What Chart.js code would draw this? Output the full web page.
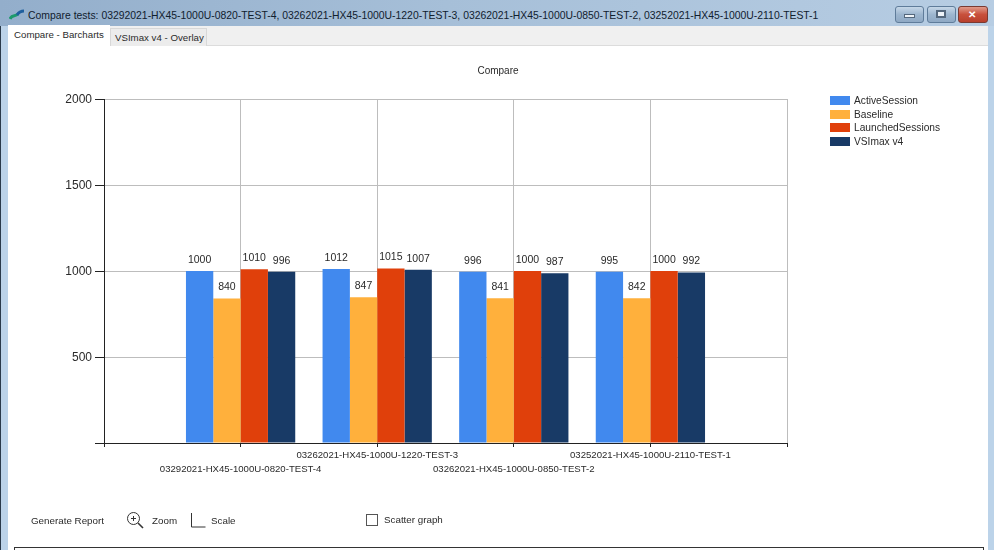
<!DOCTYPE html>
<html>
<head>
<meta charset="utf-8">
<title>Compare</title>
<script src="https://cdn.jsdelivr.net/npm/chart.js@4"></script>
<style>
  html, body { margin: 0; padding: 0; }
  body { position: relative; width: 994px; height: 550px; overflow: hidden; background: #bcd3e9; font-family: "Liberation Sans", Arial, sans-serif; color: #2a2a2a; }
  .abs { position: absolute; white-space: nowrap; }
  #titlebar { left: 0; top: 0; width: 994px; height: 26px; background: linear-gradient(90deg, #93aecb 0%, #a6bfd8 45%, #b7cde3 100%); }
  #edge { left: 0; top: 26px; width: 1px; height: 524px; background: #2a3a4a; }
  #apptitle { left: 28px; top: 9px; font: 11.5px "Liberation Sans", sans-serif; color: #10202e; transform: scaleX(.904); transform-origin: left; }
  #tabstrip { left: 8px; top: 26px; width: 980px; height: 20px; background: #f0f0f0; border-bottom: 1px solid #dcdcdc; box-sizing: border-box; }
  #content { left: 8px; top: 46px; width: 980px; height: 504px; background: #fff; }
  .tab { font: 9.7px "Liberation Sans", sans-serif; box-sizing: border-box; }
  #tab1 { left: 8px; width: 102px; background: #fff; padding-left: 6px; top: 25px; height: 21px; line-height: 20px; }
  #tab2 { left: 110px; width: 97px; background: #ececec; border: 1px solid #d8d8d8; border-bottom: 0; padding-left: 4px; top: 28px; height: 18px; line-height: 18px; }
  .winbtn { top: 6px; height: 17px; border-radius: 3px; border: 1px solid #5f7c9a; box-sizing: border-box; background: linear-gradient(#c6d7e8, #9db6cf 50%, #8fa9c4); }
  #close { left: 958px; width: 30px; border-color: #7a3a32; background: linear-gradient(#e09a8a, #c8503c 50%, #b8402c); }
  #chart { left: 0; top: 0; }
  #charttitle { left: 398px; width: 200px; top: 65px; text-align: center; font: 10px "Liberation Sans", sans-serif; }
  #legend { left: 830px; top: 94px; font: 10.2px "Liberation Sans", Arial, sans-serif; }
  .legrow { height: 13.5px; line-height: 13.5px; display: flex; align-items: center; }
  .legrow i { display: block; width: 20px; height: 9px; margin-right: 4px; }
  .tool { font: 9.8px "Liberation Sans", sans-serif; top: 515px; }
  #check { left: 366px; top: 514px; width: 12px; height: 12px; border: 1px solid #555; box-sizing: border-box; background: #fff; }
  #lower { left: 14px; top: 547px; width: 970px; height: 5px; background: #fcfcfc; border: 1px solid #333; box-sizing: border-box; }
</style>
</head>
<body>
<div class="abs" id="titlebar"></div>
<div class="abs" id="edge"></div>
<svg class="abs" style="left:9px;top:9px" width="16" height="11" viewBox="0 0 16 11"><path d="M1 10 C3 5 6 8 9 5" stroke="#1d9a6c" stroke-width="3" fill="none"/><path d="M8 6 C10 3 12 2 15 2" stroke="#1f5f9e" stroke-width="3" fill="none"/></svg>
<div class="abs" id="apptitle">Compare tests: 03292021-HX45-1000U-0820-TEST-4, 03262021-HX45-1000U-1220-TEST-3, 03262021-HX45-1000U-0850-TEST-2, 03252021-HX45-1000U-2110-TEST-1</div>
<div class="abs winbtn" style="left:895px;width:29px"></div>
<div class="abs winbtn" style="left:927px;width:29px"></div>
<div class="abs winbtn" id="close"></div>
<div class="abs" style="left:904px;top:14px;width:11px;height:4px;background:#eef3f8;border:1px solid #54677c;box-sizing:border-box"></div>
<div class="abs" style="left:936px;top:10px;width:10px;height:8px;border:2px solid #54677c;background:#eef3f8;box-sizing:border-box"></div>
<div class="abs" style="left:968px;top:9px;color:#fff;font:bold 10px 'Liberation Sans'">✕</div>
<div class="abs" id="tabstrip"></div>
<div class="abs" id="content"></div>
<div class="abs tab" id="tab1">Compare - Barcharts</div>
<div class="abs tab" id="tab2">VSImax v4 - Overlay</div>

<canvas class="abs" id="chart" width="994" height="550"></canvas>
<div class="abs" id="charttitle">Compare</div>
<div class="abs" id="legend"></div>

<div class="abs tool" style="left:31px">Generate Report</div>
<svg class="abs" style="left:126px;top:511px" width="18" height="18" viewBox="0 0 18 18"><circle cx="7.5" cy="7.5" r="6" stroke="#333" fill="none"/><path d="M5 7.5h5M7.5 5v5" stroke="#333"/><path d="M12 12l5 5" stroke="#333" stroke-width="1.6"/></svg>
<div class="abs tool" style="left:152px">Zoom</div>
<svg class="abs" style="left:190px;top:512px" width="16" height="16" viewBox="0 0 16 16"><path d="M1.5 1v14h14" stroke="#333" fill="none"/></svg>
<div class="abs tool" style="left:211px">Scale</div>
<div class="abs" id="check"></div>
<div class="abs tool" style="left:384px;top:514px">Scatter graph</div>
<div class="abs" id="lower"></div>

<script>
const categories = [
  '03292021-HX45-1000U-0820-TEST-4',
  '03262021-HX45-1000U-1220-TEST-3',
  '03262021-HX45-1000U-0850-TEST-2',
  '03252021-HX45-1000U-2110-TEST-1',
];
const seriesNames     = ['ActiveSession', 'Baseline', 'LaunchedSessions', 'VSImax v4'];
const seriesColors    = ['#4189ee', '#ffb03c', '#e0400b', '#183a66'];
const activeSession   = [1000, 1012, 996, 995];
const baseline        = [840, 847, 841, 842];
const launchedSession = [1010, 1015, 1000, 1000];
const vsimax          = [996, 1007, 987, 992];
const yTicks          = [0, 500, 1000, 1500, 2000];

// the axis has one empty slot each side of the four groups
const labels = ['', ...categories, ''];
const padded = (vals) => [null, ...vals, null];

// ── Legend ────────────────────────────────────────────────────
const legend = document.getElementById('legend');
seriesNames.forEach((name, i) => {
  const row = document.createElement('div');
  row.className = 'legrow';
  row.innerHTML = `<i style="background:${seriesColors[i]}"></i><span>${name}</span>`;
  legend.appendChild(row);
});

// ── Value labels above the bars ───────────────────────────────
const valueLabels = {
  id: 'valueLabels',
  afterDatasetsDraw(chart) {
    const { ctx } = chart;
    ctx.save();
    ctx.font = '10.5px "Liberation Sans", Arial, sans-serif';
    ctx.fillStyle = '#2a2a2a';
    ctx.textAlign = 'center';
    ctx.textBaseline = 'middle';
    chart.data.datasets.forEach((ds, i) => {
      chart.getDatasetMeta(i).data.forEach((bar, j) => {
        if (ds.data[j] == null) return;
        ctx.fillText(ds.data[j], bar.x, bar.y - 11);
      });
    });
    ctx.restore();
  },
};

// ── Chart ─────────────────────────────────────────────────────
const allSeries = [activeSession, baseline, launchedSession, vsimax];

new Chart(document.getElementById('chart').getContext('2d'), {
  type: 'bar',
  plugins: [valueLabels],
  data: {
    labels,
    datasets: allSeries.map((vals, i) => ({
      label: seriesNames[i],
      data: padded(vals),
      backgroundColor: seriesColors[i],
      categoryPercentage: 0.8,
      barPercentage: 1,
    })),
  },
  options: {
    responsive: false,
    animation: false,
    layout: { padding: { left: 0, right: 207, top: 99, bottom: 0 } },
    plugins: {
      legend: { display: false },
      tooltip: { enabled: false },
    },
    scales: {
      x: {
        offset: false,
        afterFit: (s) => { s.height = 107; },
        border: { color: '#222' },
        grid: { offset: false, color: '#bdbdbd', tickColor: '#222', tickLength: 4 },
        ticks: {
          autoSkip: false,
          maxRotation: 0,
          minRotation: 0,
          padding: 1,
          color: '#2a2a2a',
          font: { family: '"Liberation Sans", Arial, sans-serif', size: 9.6, lineHeight: 1.45 },
          // every other label drops a line so the long names do not collide
          callback(value, index) {
            const name = labels[index];
            if (!name) return '';
            return index % 2 === 1 ? ['', name] : [name];
          },
        },
      },
      y: {
        min: 0,
        max: 2000,
        afterFit: (s) => { s.width = 104; },
        afterBuildTicks: (s) => { s.ticks = yTicks.map((value) => ({ value })); },
        border: { color: '#222' },
        grid: { color: '#bdbdbd', tickColor: '#222', tickLength: 9 },
        ticks: {
          padding: 3,
          labelOffset: 1,
          color: '#2a2a2a',
          font: { family: '"Liberation Sans", Arial, sans-serif', size: 12 },
          callback: (v) => (v === 0 ? '' : v),
        },
      },
    },
  },
});
</script>
</body>
</html>
